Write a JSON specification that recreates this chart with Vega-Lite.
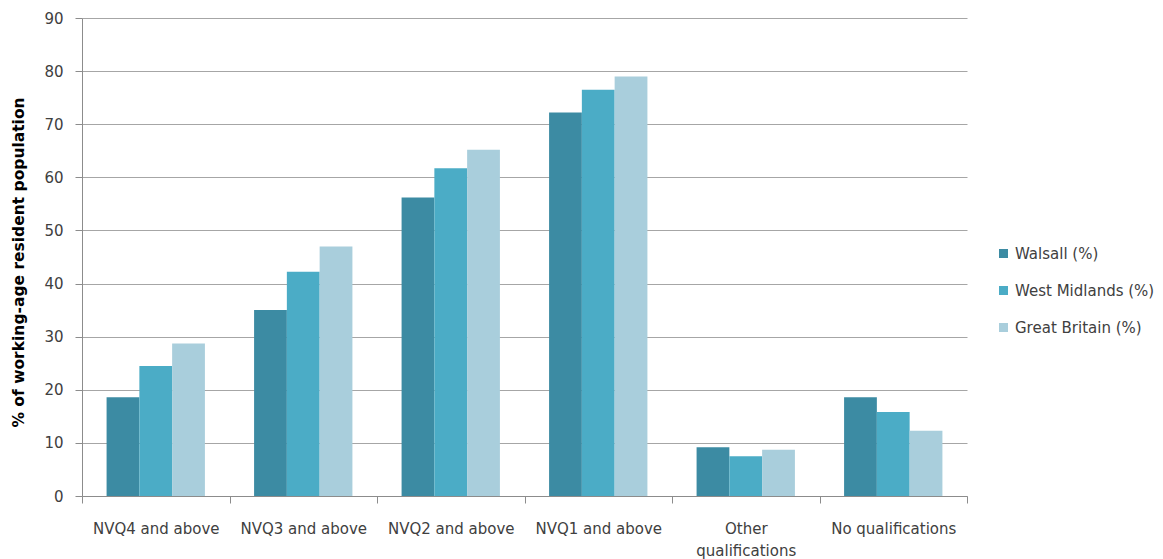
{
  "$schema": "https://vega.github.io/schema/vega-lite/v6.json",
  "width": 885,
  "height": 478,
  "autosize": {"type": "none"},
  "padding": {"left": 82, "top": 18, "right": 196, "bottom": 63},
  "background": "white",
  "config": {
    "view": {"stroke": null},
    "font": "DejaVu Sans",
    "axis": {
      "labelFont": "DejaVu Sans",
      "labelFontSize": 15,
      "labelColor": "#404040",
      "domainColor": "#8c8c8c",
      "tickColor": "#8c8c8c",
      "gridColor": "#a6a6a6",
      "tickSize": 7
    },
    "legend": {"labelFont": "DejaVu Sans", "labelFontSize": 15, "labelColor": "#404040"}
  },
  "data": {
    "values": [
      {"qualification": "NVQ4 and above", "area": "Walsall (%)", "value": 18.6},
      {"qualification": "NVQ4 and above", "area": "West Midlands (%)", "value": 24.5},
      {"qualification": "NVQ4 and above", "area": "Great Britain (%)", "value": 28.7},
      {"qualification": "NVQ3 and above", "area": "Walsall (%)", "value": 35.0},
      {"qualification": "NVQ3 and above", "area": "West Midlands (%)", "value": 42.2},
      {"qualification": "NVQ3 and above", "area": "Great Britain (%)", "value": 47.0},
      {"qualification": "NVQ2 and above", "area": "Walsall (%)", "value": 56.2},
      {"qualification": "NVQ2 and above", "area": "West Midlands (%)", "value": 61.7},
      {"qualification": "NVQ2 and above", "area": "Great Britain (%)", "value": 65.2},
      {"qualification": "NVQ1 and above", "area": "Walsall (%)", "value": 72.2},
      {"qualification": "NVQ1 and above", "area": "West Midlands (%)", "value": 76.5},
      {"qualification": "NVQ1 and above", "area": "Great Britain (%)", "value": 79.0},
      {"qualification": "Other qualifications", "area": "Walsall (%)", "value": 9.2},
      {"qualification": "Other qualifications", "area": "West Midlands (%)", "value": 7.5},
      {"qualification": "Other qualifications", "area": "Great Britain (%)", "value": 8.7},
      {"qualification": "No qualifications", "area": "Walsall (%)", "value": 18.6},
      {"qualification": "No qualifications", "area": "West Midlands (%)", "value": 15.8},
      {"qualification": "No qualifications", "area": "Great Britain (%)", "value": 12.3}
    ]
  },
  "mark": {"type": "bar"},
  "encoding": {
    "x": {
      "field": "qualification",
      "type": "nominal",
      "sort": null,
      "scale": {"paddingInner": 0, "paddingOuter": 0},
      "axis": {
        "title": null,
        "labelAngle": 0,
        "bandPosition": 0,
        "tickBand": "extent",
        "labelPadding": 18,
        "labelLineHeight": 22,
        "labelBaseline": "top",
        "labelExpr": "datum.label == 'Other qualifications' ? ['Other', 'qualifications'] : datum.label"
      }
    },
    "xOffset": {
      "field": "area",
      "type": "nominal",
      "sort": null,
      "scale": {"paddingInner": 0, "paddingOuter": 0.75}
    },
    "y": {
      "field": "value",
      "type": "quantitative",
      "scale": {"domain": [0, 90], "nice": false},
      "axis": {
        "title": "% of working-age resident population",
        "titleFont": "DejaVu Sans",
        "titleFontSize": 15.5,
        "titleFontWeight": "bold",
        "titleColor": "#000000",
        "titleBaseline": "alphabetic",
        "titleX": -59,
        "titleY": 244,
        "values": [0, 10, 20, 30, 40, 50, 60, 70, 80, 90],
        "labelPadding": 12,
        "grid": true
      }
    },
    "color": {
      "field": "area",
      "type": "nominal",
      "sort": null,
      "scale": {
        "domain": ["Walsall (%)", "West Midlands (%)", "Great Britain (%)"],
        "range": ["#3c8ba3", "#4bacc6", "#a9cedc"]
      },
      "legend": {
        "title": null,
        "orient": "none",
        "legendX": 914,
        "legendY": 228,
        "symbolType": "square",
        "symbolSize": 81,
        "symbolStrokeWidth": 0,
        "rowPadding": 21,
        "labelOffset": 4
      }
    }
  }
}
